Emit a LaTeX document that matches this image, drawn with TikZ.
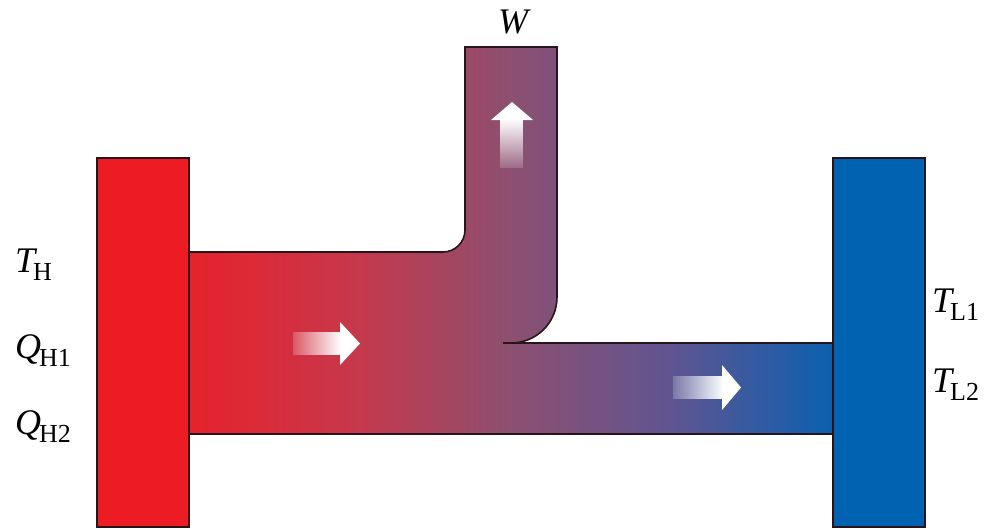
\documentclass[tikz,border=0pt]{standalone}
\usepackage{fontspec}
\setmainfont{Liberation Serif}
\usetikzlibrary{fadings}
\definecolor{c0}{RGB}{230,34,44}
\definecolor{c1}{RGB}{200,55,75}
\definecolor{c2}{RGB}{140,80,112}
\definecolor{c3}{RGB}{95,85,145}
\definecolor{c4}{RGB}{12,96,176}
\definecolor{hotred}{RGB}{237,28,36}
\definecolor{coldblue}{RGB}{0,98,176}
\definecolor{edge}{RGB}{40,20,25}
\pgfdeclarehorizontalshading{heat}{100bp}{color(0bp)=(c0); color(25bp)=(c0); color(37.5bp)=(c1); color(50bp)=(c2); color(62.5bp)=(c3); color(75bp)=(c4); color(100bp)=(c4)}
\tikzfading[name=fadeinright, left color=transparent!80, right color=transparent!0]
\tikzfading[name=fadeinup, bottom color=transparent!85, top color=transparent!0]
\newcommand\symlbl[2]{{\fontsize{36}{36}\selectfont\itshape #1}\kern-2pt\raisebox{-8pt}{\fontsize{26}{26}\selectfont #2}}
\tikzset{
  outline/.style={draw=edge, line width=1.6pt},
  reservoir/.style={outline, line width=1.6pt},
  lbl/.style={inner sep=0pt, anchor=base west},
}
\begin{document}
\begin{tikzpicture}[x=1pt,y=-1pt]
\useasboundingbox (0,0) rectangle (987,528);
% channel fill
\path[shading=heat]
  (189,252) -- (443,252) .. controls (455.1,252) and (465,242.1) .. (465,230)
  -- (465,47) -- (557,47) -- (557,297)
  .. controls (557,323) and (536,343) .. (511,343)
  -- (833,343) -- (833,434) -- (189,434) -- cycle;
% channel outline
\draw[outline] (189,252) -- (443,252) .. controls (455.1,252) and (465,242.1) .. (465,230)
  -- (465,47) -- (557,47) -- (557,297)
  .. controls (557,323) and (536,343) .. (511,343) -- (833,343);
\draw[outline] (503,343) -- (512,343);
\draw[outline] (189,434) -- (833,434);
% reservoirs
\filldraw[reservoir, fill=hotred] (97,158) rectangle (189,527);
\filldraw[reservoir, fill=coldblue] (833,158) rectangle (925,527);
% arrows
\fill[white, path fading=fadeinright] (293,332) rectangle (341,355);
\fill[white] (340,322) -- (360,343.5) -- (340,365) -- cycle;
\fill[white, path fading=fadeinright] (673,376) rectangle (723,399);
\fill[white] (722,365) -- (741,387.5) -- (722,410) -- cycle;
\fill[white, path fading=fadeinup] (500,119) rectangle (523,168);
\fill[white] (491,120) -- (512,102) -- (533,120) -- cycle;
% labels
\node[lbl] (th) at (15,272) {\symlbl{T}{H}};
\node[lbl] (qh1) at (15,358) {\symlbl{Q}{H1}};
\node[lbl] (qh2) at (15,434) {\symlbl{Q}{H2}};
\node[lbl] (tl1) at (932,312) {\symlbl{T}{L1}};
\node[lbl] (tl2) at (932,392) {\symlbl{T}{L2}};
\node[lbl] (w) at (498,33) {\fontsize{36}{36}\selectfont\itshape W};
\end{tikzpicture}
\end{document}
